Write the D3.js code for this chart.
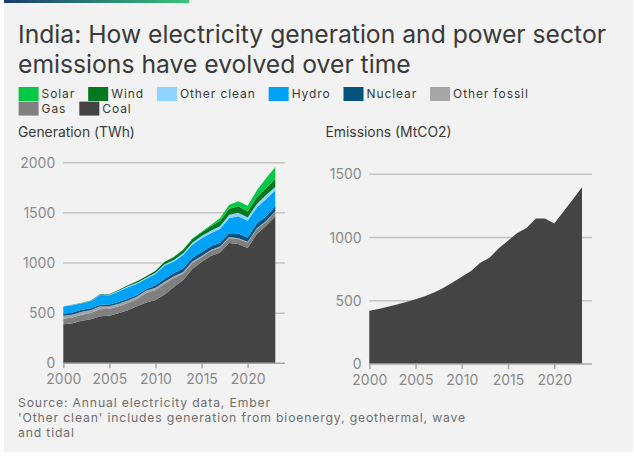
<!DOCTYPE html>
<html>
<head>
<meta charset="utf-8">
<script src="https://cdn.jsdelivr.net/npm/d3@7"></script>
<style>
  html, body { margin: 0; padding: 0; background: #ffffff; }
  svg { display: block; font-family: Inter, "Noto Sans", sans-serif; }
</style>
</head>
<body>
<svg id="chart" width="634" height="467"></svg>
<script>
// ---------------- data ----------------
const years = d3.range(2000, 2024);
const coal        = [390,400,425,440,470,475,500,530,570,605,631,687,760,830,940,1010,1070,1105,1200,1190,1150,1290,1372,1465];
const gas         = [55,57,60,62,70,68,68,72,72,95,100,105,90,65,60,48,50,50,50,50,55,50,40,45];
const otherFossil = [30,30,30,30,28,27,26,25,25,25,22,20,18,16,15,12,10,10,8,8,7,7,7,7];
const nuclear     = [17,19,19,18,17,17,17,17,15,17,26,32,33,34,36,38,38,38,39,46,43,47,46,48];
const hydro       = [74,74,64,68,95,92,106,115,112,100,112,130,114,134,132,138,128,136,151,172,165,160,174,158];
const otherClean  = [2,2,3,4,5,6,7,8,9,10,12,14,16,18,20,22,25,28,32,35,33,35,38,35];
const wind        = [2,2,2,3,6,6,8,12,14,17,20,24,29,34,37,36,45,53,60,64,60,68,72,83];
const solar       = [0,0,0,0,0,0,0,0,0,0,0,1,2,4,5,7,13,26,40,50,58,68,95,115];
const emissions   = [421,435,452,470,490,512,535,565,600,645,690,735,800,840,915,975,1035,1075,1150,1150,1110,1205,1300,1398];

const seriesKeys   = ["coal","gas","otherFossil","nuclear","hydro","otherClean","wind","solar"];
const seriesNames  = ["Coal","Gas","Other fossil","Nuclear","Hydro","Other clean","Wind","Solar"];
const seriesColors = ["#444444","#808080","#a6a6a6","#05527d","#00a2f7","#8fd3ff","#04781f","#04c946"];
const legendOrder  = ["solar","wind","otherClean","hydro","nuclear","otherFossil","gas","coal"];

const genTicks = [0,500,1000,1500,2000];
const emiTicks = [0,500,1000,1500];
const xTicks   = [2000,2005,2010,2015,2020];

const titleLines = ["India: How electricity generation and power sector",
                    "emissions have evolved over time"];
const footLines  = ["Source: Annual electricity data, Ember",
                    "'Other clean' includes generation from bioenergy, geothermal, wave",
                    "and tidal"];

// ---------------- build table ----------------
const columns = {coal, gas, otherFossil, nuclear, hydro, otherClean, wind, solar};
const table = years.map((y, i) => {
  const row = {year: y};
  seriesKeys.forEach(k => row[k] = columns[k][i]);
  return row;
});
const emiTable = years.map((y, i) => ({year: y, value: emissions[i]}));

const svg = d3.select("#chart");
const TEXT = "#3a3a3a", TICK = "#8a8a8a", GRID = "#c4c4c4";

// panel
svg.append("rect").attr("x", 4).attr("y", 0).attr("width", 629).attr("height", 452).attr("fill", "#f2f2f2");
const grad = svg.append("defs").append("linearGradient").attr("id", "topbar");
grad.append("stop").attr("offset", "0%").attr("stop-color", "#1b3a6e");
grad.append("stop").attr("offset", "100%").attr("stop-color", "#38c47a");
svg.append("rect").attr("x", 4).attr("y", 0).attr("width", 185).attr("height", 3).attr("fill", "url(#topbar)");

function fitWidth(sel, target) {
  const w = sel.node().getComputedTextLength();
  const fs = parseFloat(sel.attr("font-size"));
  sel.attr("font-size", (fs * target / w).toFixed(2));
}
function fitSpacing(sel, target) {
  const n = sel.text().length;
  const w = sel.node().getComputedTextLength();
  sel.attr("letter-spacing", ((target - w) / n).toFixed(3));
}

// title
const t1 = svg.append("text").attr("x", 18).attr("y", 43).attr("font-size", 24).attr("fill", TEXT).text(titleLines[0]);
fitWidth(t1, 588);
svg.append("text").attr("x", 18).attr("y", 73).attr("font-size", t1.attr("font-size")).attr("fill", TEXT).text(titleLines[1]);

// legend
const legend = svg.append("g");
let lx = 18.6, ly = 87;
legendOrder.forEach(k => {
  const idx = seriesKeys.indexOf(k);
  const g = legend.append("g");
  const txt = g.append("text").attr("font-size", 12).attr("letter-spacing", 0.9).attr("fill", TEXT).text(seriesNames[idx]);
  const tw = txt.node().getComputedTextLength();
  if (lx + 23 + tw > 570) { lx = 18.6; ly += 14.6; }
  g.append("rect").attr("x", lx).attr("y", ly).attr("width", 20).attr("height", 14).attr("fill", seriesColors[idx]);
  txt.attr("x", lx + 23).attr("y", ly + 11);
  lx += 23 + tw + 13;
});

// subtitles
const s1 = svg.append("text").attr("x", 18).attr("y", 137).attr("font-size", 13).attr("fill", TEXT).text("Generation (TWh)");
fitWidth(s1, 117);
svg.append("text").attr("x", 325.5).attr("y", 137).attr("font-size", s1.attr("font-size")).attr("fill", TEXT).text("Emissions (MtCO2)");

// ---------------- generation chart ----------------
const xG = d3.scaleLinear().domain([2000, 2023]).range([63.3, 275.3]);
const yG = d3.scaleLinear().domain([0, 2000]).range([363.3, 162.7]);

function drawFrame(x, y, ticks, gridEnd, labelGap) {
  const g = svg.append("g");
  g.selectAll("line.grid").data(ticks.filter(d => d > 0)).join("line")
    .attr("x1", x.range()[0]).attr("x2", gridEnd)
    .attr("y1", d => y(d)).attr("y2", d => y(d))
    .attr("stroke", GRID).attr("stroke-width", 1.5);
  const yAxis = d3.axisLeft(y).tickValues(ticks).tickFormat(d3.format("d")).tickSize(0).tickPadding(labelGap);
  const ya = g.append("g").attr("transform", `translate(${x.range()[0]},0)`).call(yAxis);
  ya.select(".domain").remove();
  ya.selectAll("text").attr("font-size", 14).attr("fill", TICK).attr("font-family", "Inter, sans-serif");
  return g;
}
function drawXAxis(x, y, gridEnd) {
  const xAxis = d3.axisBottom(x).tickValues(xTicks).tickFormat(d3.format("d")).tickSize(5).tickPadding(6);
  const xa = svg.append("g").attr("transform", `translate(0,${y.range()[0]})`).call(xAxis);
  xa.select(".domain").remove();
  xa.append("line").attr("x1", x.range()[0]).attr("x2", gridEnd).attr("stroke", "#a8a8a8").attr("stroke-width", 1.5);
  xa.selectAll(".tick line").attr("stroke", "#a8a8a8").attr("stroke-width", 1.5);
  xa.selectAll("text").attr("font-size", 14).attr("fill", TICK).attr("font-family", "Inter, sans-serif");
}

drawFrame(xG, yG, genTicks, 285, 8);
const stacked = d3.stack().keys(seriesKeys)(table);
const areaG = d3.area().x(d => xG(d.data.year)).y0(d => yG(d[0])).y1(d => yG(d[1]));
svg.append("g").selectAll("path").data(stacked).join("path")
  .attr("d", areaG)
  .attr("fill", (d, i) => seriesColors[i]);
drawXAxis(xG, yG, 285);

// ---------------- emissions chart ----------------
const xE = d3.scaleLinear().domain([2000, 2023]).range([369.3, 582]);
const yE = d3.scaleLinear().domain([0, 1500]).range([364, 174.3]);
drawFrame(xE, yE, emiTicks, 592, 7.6);
const areaE = d3.area().x(d => xE(d.year)).y0(yE(0)).y1(d => yE(d.value));
svg.append("path").datum(emiTable).attr("d", areaE).attr("fill", "#444444");
drawXAxis(xE, yE, 592);

// ---------------- footer ----------------
const f = svg.append("g");
let spacing = 0;
footLines.forEach((line, i) => {
  const t = f.append("text").attr("x", 18).attr("y", 407 + i * 15).attr("font-size", 12.2).attr("fill", "#6e6e6e").text(line);
  if (i === 1) { fitSpacing(t, 448); spacing = t.attr("letter-spacing"); }
});
f.selectAll("text").attr("letter-spacing", spacing);
</script>
</body>
</html>
